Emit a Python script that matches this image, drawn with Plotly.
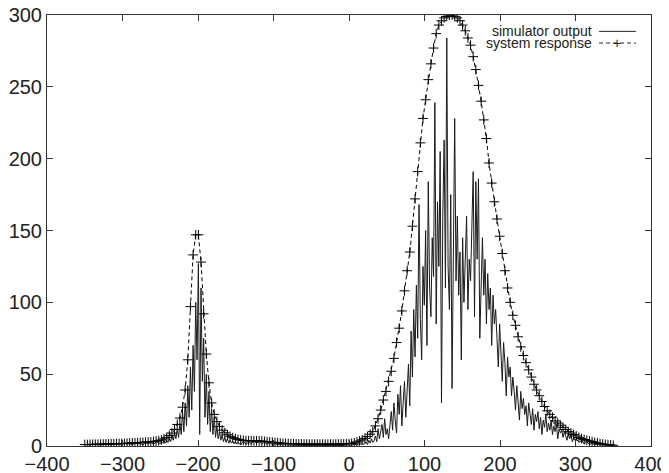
import plotly.graph_objects as go

# system response, sampled every 3.5 from -350 to 350
resp_start, resp_step = -350, 3.5
resp_a = [1.0, 1.0, 1.1, 1.1, 1.2, 1.2, 1.3, 1.3, 1.4, 1.4, 1.5, 1.5, 1.6, 1.7, 1.7, 1.8, 1.9, 2.0, 2.1, 2.2]
resp_b = [2.3, 2.4, 2.5, 2.6, 2.7, 2.9, 3.1, 3.4, 3.7, 4.2, 5.0, 6.0, 7.3, 9.0, 11.5, 15, 19.5, 27, 39, 60]
resp_c = [97, 133, 147, 147, 128, 92, 64, 44, 30, 22, 17, 13.5, 11, 9.2, 7.8, 6.7, 5.8, 5.1, 4.6, 4.2]
resp_d = [3.9, 3.7, 3.6, 3.6, 3.6, 3.6, 3.5, 3.4, 3.2, 3.0, 2.8, 2.6, 2.4, 2.2, 2.0, 1.9, 1.8, 1.7, 1.6, 1.5]
resp_e = [1.5, 1.4, 1.4, 1.4, 1.3, 1.3, 1.3, 1.3, 1.3, 1.3, 1.3, 1.3, 1.3, 1.3, 1.3, 1.3, 1.3, 1.4, 1.4, 1.5]
resp_f = [1.6, 1.8, 2.2, 2.8, 3.5, 4.3, 5.3, 6.6, 8.2, 10, 14, 19, 25, 32, 38, 45, 52, 61, 72, 82]
resp_g = [94, 108, 122, 135, 153, 172, 191, 211, 228, 241, 255, 266, 277, 287, 293, 296, 298, 299, 300, 300]
resp_h = [299, 298, 296, 293, 289, 284, 279, 271, 262, 251, 240, 227, 214, 197, 183, 170, 158, 146, 134, 122]
resp_i = [110, 100, 91, 84, 76, 69, 63, 58, 53, 48, 43, 39, 35, 31, 27.5, 24.5, 22, 20, 17.5, 16]
resp_j = [14.5, 13, 11.5, 10, 9, 8, 7, 6, 5.2, 4.5, 4, 3.5, 3, 2.5, 2.1, 1.7, 1.4, 1.1, 0.9, 0.7, 0.5]

# simulator output, in segments (start, step, values)
sim_tail_left = [0.5, 1.2, 0.4, 1.5, 0.8, 1.1, 0.3, 1.6, 0.9, 1.3, 0.5, 1.8, 1.0, 1.4,
                 0.6, 2.0, 1.2, 1.7, 0.7, 2.2, 1.3, 1.9, 0.9, 2.4, 1.5, 2.6, 1.1, 2.8]
sim_peak_left = [2.5, 1.5, 3, 2, 3.5, 2, 4, 2.5, 5, 3, 7, 4, 9, 5, 12, 6, 16, 8, 24, 10,
                 30, 14, 42, 20, 55, 25, 70, 38, 100, 60, 127, 8, 110, 45, 75, 20, 50, 15, 38, 10,
                 26, 8, 20, 6, 14, 5, 10, 4, 8, 3, 6, 2.5, 5, 2, 4, 2, 3.5, 1.5, 3, 1.5]
sim_middle = [2.5, 0.8, 3.2, 1.2, 2.8, 1.5, 3.4, 2.0, 3.1, 1.6, 2.7, 1.2, 2.3, 0.9, 1.8, 0.7,
              1.4, 0.5, 1.1, 0.4, 0.9, 0.3, 0.7, 0.3, 0.6, 0.2, 0.5, 0.2, 0.5, 0.2, 0.4, 0.2,
              0.4, 0.2, 0.4, 0.2, 0.4, 0.3, 0.5, 0.3, 0.6, 0.4, 0.8, 0.5, 1.2, 0.8, 1.8, 1.2]
sim_peak_right = [1.5, 3, 1, 4, 2, 5, 2.5, 3.5, 7, 3,
                  12, 5, 9, 15, 6, 19, 8, 12, 5, 17,
                  24, 11, 30, 18, 9, 36, 22, 42, 14, 30,
                  45, 20, 36, 57, 28, 80, 48, 95, 62, 112,
                  75, 168, 88, 60, 125, 98, 150, 70, 184, 110,
                  90, 145, 118, 239, 85, 170, 125, 205, 30, 160,
                  213, 110, 284, 125, 95, 175, 40, 140, 228, 115,
                  160, 105, 135, 60, 145, 100, 125, 160, 95, 130,
                  115, 150, 191, 90, 184, 130, 186, 75, 120, 145,
                  105, 130, 85, 120, 95, 110, 70, 105, 85, 95,
                  75, 55, 85, 65, 45, 72, 58, 35, 62, 48,
                  55, 35, 48, 38, 25, 42, 32, 18, 38, 26,
                  33, 22, 28, 14, 30, 21, 15, 26, 11, 22,
                  17, 24, 12, 20, 8, 18, 13, 22, 10, 16,
                  11, 18, 8, 14, 10, 15, 5, 12, 9, 11,
                  6, 10, 7, 4, 9, 5, 8, 3, 6, 4, 5]
sim_tail_right = [2.5, 4.0, 1.5, 3.0, 1.0, 2.0, 0.8, 1.5, 0.5, 1.0, 0.4, 0.7, 0.3, 0.5]

sim_segments = [(-350, 3.5, sim_tail_left), (-252, 1.75, sim_peak_left),
                (-147, 3.5, sim_middle), (21, 1.75, sim_peak_right),
                (304.5, 3.5, sim_tail_right)]

resp_y = resp_a + resp_b + resp_c + resp_d + resp_e + resp_f + resp_g + resp_h + resp_i + resp_j
resp_x = [resp_start + resp_step * i for i in range(len(resp_y))]

sim_x, sim_y = [], []
for start, step, vals in sim_segments:
    sim_x += [start + step * i for i in range(len(vals))]
    sim_y += vals

fig = go.Figure()
fig.add_trace(go.Scatter(x=sim_x, y=sim_y, mode='lines', name='simulator output',
                         line=dict(color='#1a1a1a', width=1)))
fig.add_trace(go.Scatter(x=resp_x, y=resp_y, mode='lines+markers', name='system response',
                         line=dict(color='black', width=1, dash='4px,3px'),
                         marker=dict(symbol='cross-thin', size=7,
                                     line=dict(color='black', width=1))))

font = dict(family='Liberation Sans, Arial, sans-serif', size=20, color='#222')
axis = dict(showline=True, linecolor='#333', linewidth=1, mirror='ticks',
            ticks='inside', ticklen=6, tickcolor='#333', showgrid=False,
            zeroline=False, tickfont=font, ticklabeloverflow='allow')
# page body has an 8px margin, so the figure is a bit smaller than the window
fig.update_layout(
    width=661, height=465,
    margin=dict(l=39, r=18, t=7, b=27, autoexpand=False),
    plot_bgcolor='white', paper_bgcolor='white',
    showlegend=False,
    xaxis=dict(range=[-400, 400], tickvals=list(range(-400, 401, 100)), **axis),
    yaxis=dict(range=[0, 300], tickvals=list(range(0, 301, 50)), **axis),
)

# gnuplot style key: text first, sample after it
lf = dict(family='Liberation Sans, Arial, sans-serif', size=14, color='#222')
fig.add_annotation(x=0.906, y=0.962, xref='paper', yref='paper', text='simulator output',
                   showarrow=False, xanchor='right', yanchor='middle', font=lf)
fig.add_annotation(x=0.906, y=0.935, xref='paper', yref='paper', text='system response',
                   showarrow=False, xanchor='right', yanchor='middle', font=lf)
fig.add_shape(type='line', xref='paper', yref='paper', x0=0.914, x1=0.975, y0=0.962, y1=0.962,
              line=dict(color='#222', width=1))
fig.add_shape(type='line', xref='paper', yref='paper', x0=0.914, x1=0.975, y0=0.935, y1=0.935,
              line=dict(color='#222', width=1, dash='4px,3px'))
fig.add_annotation(x=0.943, y=0.935, xref='paper', yref='paper', text='+',
                   showarrow=False, xanchor='center', yanchor='middle', font=lf)

fig.write_html("out.html")
